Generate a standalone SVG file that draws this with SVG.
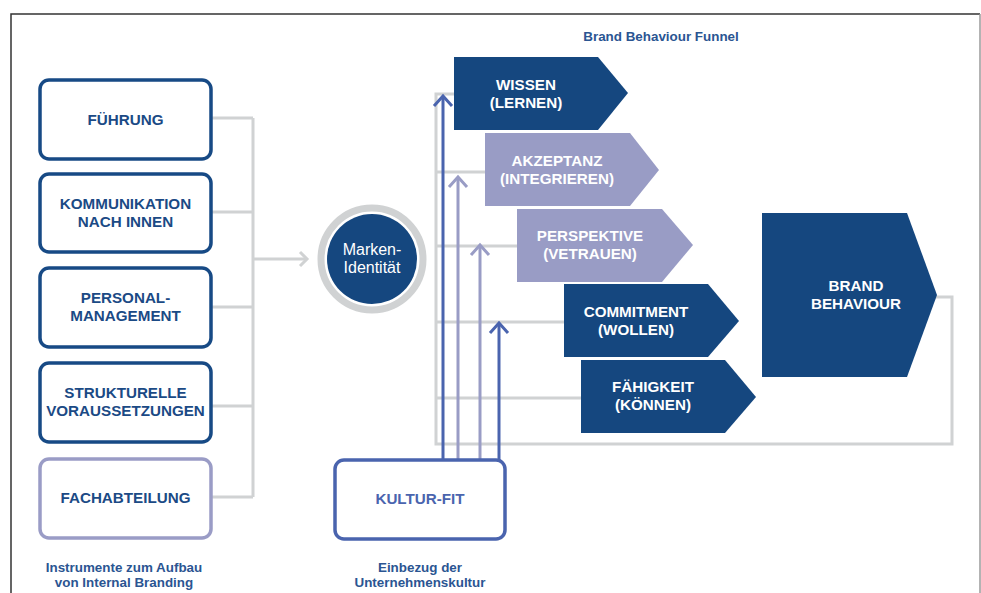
<svg xmlns="http://www.w3.org/2000/svg" width="981" height="593" viewBox="0 0 981 593">
<style>
.lbl{font-family:"Liberation Sans",Arial,sans-serif;font-weight:bold;font-size:15.2px;text-anchor:middle}
.dk{fill:#1b4a85}
.wt{fill:#ffffff}
.cap{font-family:"Liberation Sans",Arial,sans-serif;font-weight:bold;font-size:13.4px;text-anchor:middle;fill:#2b5592}
.box{fill:#ffffff;stroke:#174a85;stroke-width:3.5}
.gl{fill:none;stroke:#d0d2d3;stroke-width:3}
.navy{fill:#15477f}
.lila{fill:#999cc5}
</style>
<rect width="981" height="593" fill="#ffffff"/>
<!-- frame -->
<path d="M11,593 V14 H980" fill="none" stroke="#333333" stroke-width="1.5"/>
<path d="M980,14 V593" fill="none" stroke="#9a9a9a" stroke-width="1.5"/>

<g id="connectors">
  <!-- left bracket -->
  <path class="gl" d="M211,118 H253 M211,212 H253 M211,307 H253 M211,406 H253 M211,497 H253 M253,118 V497 M253,259 H307"/>
  <path class="gl" d="M300,252 L307,259 L300,266"/>
  <!-- funnel frame -->
  <path class="gl" d="M454,94 H436 V444 H952 V297 H935 M436,172 H485 M436,246 H517 M436,322 H564 M436,398 H581"/>
  <!-- culture arrows -->
  <g fill="none" stroke-width="3">
    <path d="M443,460 V96" stroke="#4a64ae"/>
    <path d="M434,106 L443,96 L452,106" stroke="#4a64ae"/>
    <path d="M458,460 V177" stroke="#999cc5"/>
    <path d="M449,187 L458,177 L467,187" stroke="#999cc5"/>
    <path d="M480,460 V245" stroke="#999cc5"/>
    <path d="M471,255 L480,245 L489,255" stroke="#999cc5"/>
    <path d="M499,460 V323" stroke="#4a64ae"/>
    <path d="M490,333 L499,323 L508,333" stroke="#4a64ae"/>
  </g>
</g>

<g id="fuehrung"><rect class="box" x="40" y="80" width="171" height="79" rx="9"/><text class="lbl dk" x="125.5" y="125">FÜHRUNG</text></g>
<g id="kommunikation"><rect class="box" x="40" y="174" width="171" height="78" rx="9"/><text class="lbl dk" x="125.5" y="209">KOMMUNIKATION</text><text class="lbl dk" x="125.5" y="227">NACH INNEN</text></g>
<g id="personal"><rect class="box" x="40" y="268" width="171" height="79" rx="9"/><text class="lbl dk" x="125.5" y="303">PERSONAL-</text><text class="lbl dk" x="125.5" y="321">MANAGEMENT</text></g>
<g id="strukturelle"><rect class="box" x="40" y="363" width="171" height="79" rx="9"/><text class="lbl dk" x="125.5" y="398">STRUKTURELLE</text><text class="lbl dk" x="125.5" y="416">VORAUSSETZUNGEN</text></g>
<g id="fachabteilung"><rect class="box" x="40" y="459" width="171" height="79" rx="9" style="stroke:#9a9cc6"/><text class="lbl dk" x="125.5" y="503">FACHABTEILUNG</text></g>

<g id="caption-left"><text class="cap" x="124" y="572">Instrumente zum Aufbau</text><text class="cap" x="124" y="587">von Internal Branding</text></g>

<g id="marken-identitaet">
  <circle cx="372" cy="259" r="51" fill="none" stroke="#d0d2d3" stroke-width="7"/>
  <circle cx="372" cy="259" r="45" fill="#15477f"/>
  <text x="372" y="255" font-family="'Liberation Sans',Arial,sans-serif" font-size="16" fill="#ffffff" text-anchor="middle">Marken-</text>
  <text x="372" y="273" font-family="'Liberation Sans',Arial,sans-serif" font-size="16" fill="#ffffff" text-anchor="middle">Identität</text>
</g>

<g id="kultur-fit"><rect x="335" y="460" width="170" height="79" rx="9" fill="#ffffff" stroke="#4a64ae" stroke-width="3.5"/><text class="lbl" x="420" y="504" fill="#4a64ae">KULTUR-FIT</text></g>
<g id="caption-mid"><text class="cap" x="420" y="572">Einbezug der</text><text class="cap" x="420" y="587">Unternehmenskultur</text></g>

<text id="title" class="cap" x="661" y="41" font-size="13">Brand Behaviour Funnel</text>

<g id="wissen"><path class="navy" d="M454,57 H598 L628,93 L598,130 H454 Z"/><text class="lbl wt" x="526" y="90">WISSEN</text><text class="lbl wt" x="526" y="108">(LERNEN)</text></g>
<g id="akzeptanz"><path class="lila" d="M485,133 H630 L659,170 L630,206 H485 Z"/><text class="lbl wt" x="557" y="166">AKZEPTANZ</text><text class="lbl wt" x="557" y="184">(INTEGRIEREN)</text></g>
<g id="perspektive"><path class="lila" d="M517,209 H662 L693,245 L662,282 H517 Z"/><text class="lbl wt" x="590" y="241">PERSPEKTIVE</text><text class="lbl wt" x="590" y="259">(VETRAUEN)</text></g>
<g id="commitment"><path class="navy" d="M564,284 H708 L739,321 L708,357 H564 Z"/><text class="lbl wt" x="636" y="317">COMMITMENT</text><text class="lbl wt" x="636" y="335">(WOLLEN)</text></g>
<g id="faehigkeit"><path class="navy" d="M581,360 H725 L756,397 L725,433 H581 Z"/><text class="lbl wt" x="653" y="392">FÄHIGKEIT</text><text class="lbl wt" x="653" y="410">(KÖNNEN)</text></g>
<g id="brand-behaviour"><path class="navy" d="M762,213 H907 L937,295 L907,377 H762 Z"/><text class="lbl wt" x="856" y="291">BRAND</text><text class="lbl wt" x="856" y="309">BEHAVIOUR</text></g>
</svg>
